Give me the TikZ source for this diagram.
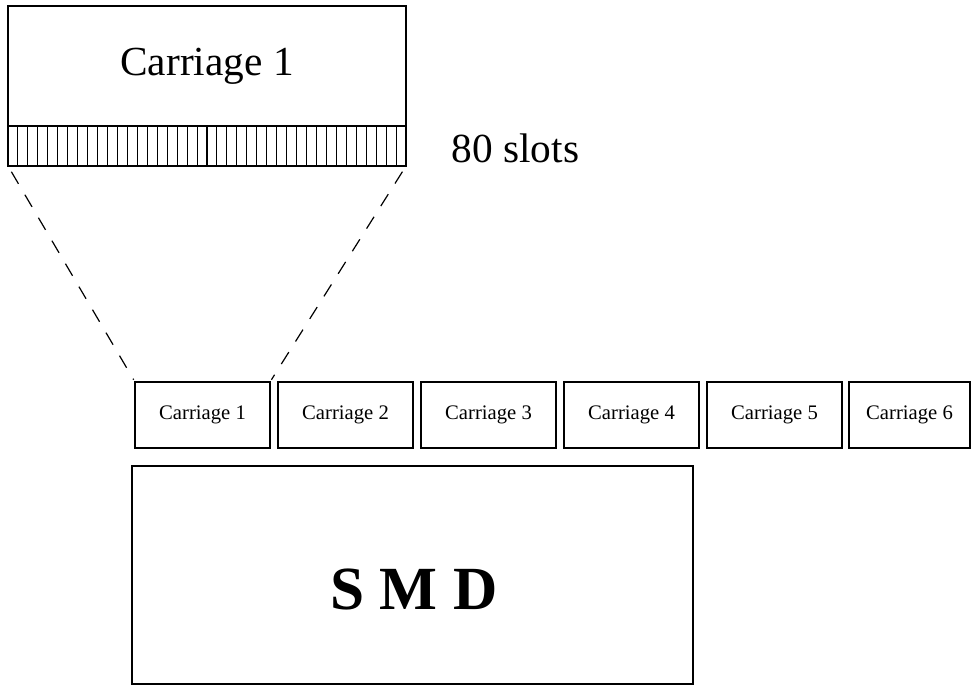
\documentclass[tikz,border=0pt]{standalone}
\usepackage{fontspec}
\setmainfont{Liberation Serif}
\usetikzlibrary{positioning}

\begin{document}
\begin{tikzpicture}[
        x=0.75pt, y=-0.75pt,
        bigbox/.style={draw, line width=1.1pt, inner sep=0pt, outer sep=0pt},
        carbox/.style={draw, line width=1.1pt, inner sep=0pt, outer sep=0pt,
                       minimum width=101.25pt, minimum height=49.5pt,
                       font=\fontsize{15.5}{18}\selectfont},
        slotline/.style={line width=0.8pt},
        zoomline/.style={dash pattern=on 10.5pt off 9.5pt, line width=0.9pt,
                         shorten <=5pt, shorten >=2pt}
      ]
        \useasboundingbox (0,0) rectangle (972,686);

        % enlarged carriage with its slots
        \node[bigbox, minimum width=298.5pt, minimum height=90pt,
              font=\fontsize{31}{36}\selectfont] (detail) at (207,66) {Carriage 1};
        \node[bigbox, minimum width=298.5pt, minimum height=30pt,
              below=0pt of detail] (slots) {};
        \foreach \i in {1,...,39}
          \draw[slotline] ([xshift=\i*7.4625pt]slots.north west)
                       -- ([xshift=\i*7.4625pt]slots.south west);
        \node[font=\fontsize{31}{36}\selectfont, anchor=base west] (count)
              at (447,162) {80 slots};

        % carriages on the machine
        \foreach \n in {1,...,5}
          \node[carbox] (car\n) at ({202.5+143*(\n-1)},415) {Carriage \n};
        \node[carbox, minimum width=90.75pt] (car6) at (909.5,415) {Carriage 6};

        \node[bigbox, minimum width=420.75pt, minimum height=163.5pt] (smd) at (412.5,575) {};
        \node[font=\fontsize{46}{52}\selectfont\bfseries] (smdlabel) at (414,589) {S M D};

        \draw[zoomline] (slots.south west) -- (car1.north west);
        \draw[zoomline] (slots.south east) -- (car1.north east);
      \end{tikzpicture}
\end{document}
